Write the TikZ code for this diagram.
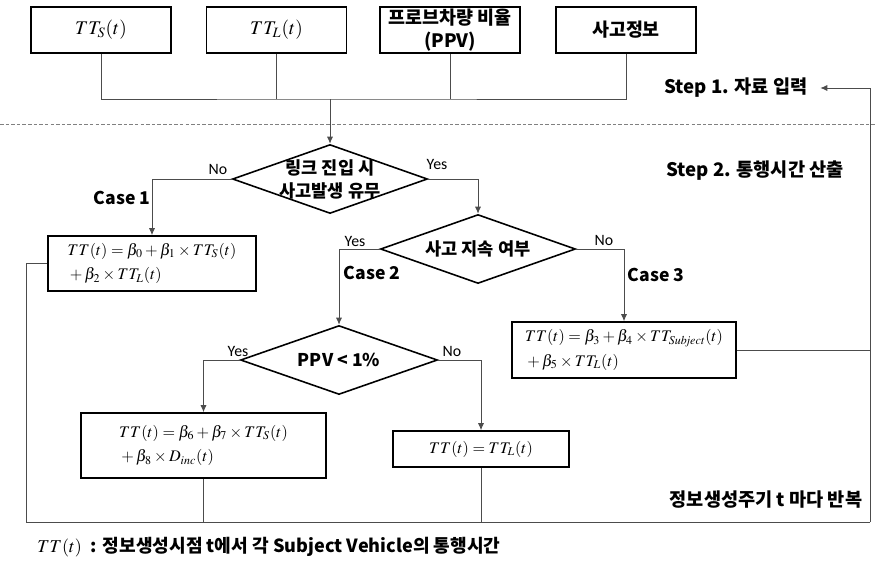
\documentclass[tikz,border=0pt]{standalone}
\usepackage{mathptmx}
\usepackage[no-math]{fontspec}
\setmainfont{Noto Sans CJK KR}
\newfontfamily\ynfont{Carlito}
\usetikzlibrary{shapes.geometric,arrows.meta}
\tikzset{
  conn/.style={draw=black!70,line width=.5pt,-{Latex[length=4pt,width=3.5pt]}},
  line/.style={draw=black!70,line width=.5pt},
  inbox/.style={draw,line width=.9pt,inner sep=0pt,minimum width=2.8cm,minimum height=.92cm,
    align=center,font=\bfseries\fontsize{10.5}{13}\selectfont},
  eqbox/.style={draw,line width=.9pt,inner sep=0pt,align=left,font=\fontsize{9.2}{14}\selectfont},
  decision/.style={diamond,draw,line width=.9pt,inner sep=0pt,minimum width=3.9cm,minimum height=1.38cm},
  dtext/.style={align=center,font=\bfseries\fontsize{10}{13}\selectfont},
  yn/.style={inner sep=0pt,font=\ynfont\fontsize{9}{10}\selectfont},
  casetext/.style={inner sep=0pt,font=\bfseries\fontsize{10}{12}\selectfont},
  steplabel/.style={inner sep=0pt,font=\bfseries\fontsize{10.6}{12}\selectfont}
}
\begin{document}
\begin{tikzpicture}[x=.02cm,y=-.02cm]
\useasboundingbox (0,0) rectangle (875,562);
\node[inbox] (ts) at (101,30) {\fontsize{11}{14}\selectfont$TT_S(t)$};
\node[inbox] (tl) at (276.5,30) {\fontsize{11}{14}\selectfont$TT_L(t)$};
\node[inbox] (ppv) at (450,30) {프로브차량 비율\\(PPV)};
\node[inbox] (acc) at (626,30) {사고정보};
\coordinate (j) at (330,99);
\path[line] (ts.south) |- (j) -| (acc.south);
\path[line] (tl.south) -- (tl.south |- j);
\path[line] (ppv.south) -- (ppv.south |- j);
\draw[gray,dash pattern=on 2pt off 1.2pt] (0,124) -- (875,124);
\node[decision,label={[dtext]center:링크 진입 시\\사고발생 유무}] (d1) at (330,179) {};
\node[decision,label={[dtext]center:사고 지속 여부}] (d2) at (478,249) {};
\node[decision,minimum width=3.94cm,label={[dtext]center:PPV < 1\%}] (d3) at (339,360) {};
\path[conn] (j) -- (d1.north);
\node[eqbox,minimum width=4.16cm,minimum height=1.1cm] (b1) at (152,263.5)
  {$TT(t)=\beta_0+\beta_1\times TT_S(t)$\\${}+\beta_2\times TT_L(t)$};
\node[eqbox,minimum width=4.48cm,minimum height=1.12cm] (b3) at (624,350)
  {$TT(t)=\beta_3+\beta_4\times TT_{\mathit{Subject}}(t)$\\${}+\beta_5\times TT_L(t)$};
\node[eqbox,minimum width=4.9cm,minimum height=1.3cm] (b4) at (203.5,445.5)
  {$TT(t)=\beta_6+\beta_7\times TT_S(t)$\\${}+\beta_8\times D_{\mathit{inc}}(t)$};
\node[eqbox,minimum width=3.52cm,minimum height=.72cm] (b5) at (481,449)
  {$TT(t)=TT_L(t)$};
\path[conn] (d1.west) -| (b1.north);
\path[conn] (d1.east) -| (d2.north);
\path[conn] (d2.west) -| (d3.north);
\path[conn] (d2.east) -| (b3.north);
\path[conn] (d3.west) -| (b4.north);
\path[conn] (d3.east) -| (b5.north);
\node[yn] (no1) at (218,169) {No};
\node[yn] (yes1) at (437,164) {Yes};
\node[yn] (yes2) at (355,241) {Yes};
\node[yn] (no2) at (604,240) {No};
\node[yn] (yes3) at (238,351) {Yes};
\node[yn] (no3) at (452,351) {No};
\node[casetext] (c1) at (122,198) {Case 1};
\node[casetext] (c2) at (372,273) {Case 2};
\node[casetext] (c3) at (656,275) {Case 3};
\node[steplabel,anchor=east] (s1) at (808,88) {Step 1. 자료 입력};
\node[steplabel] (s2) at (755,171) {Step 2. 통행시간 산출};
\node[steplabel] (rep) at (766,500) {정보생성주기 t 마다 반복};
\coordinate (lb) at (26,522);
\coordinate (rb) at (870,522);
\path[line] (b1.west) -| (lb) -- (rb);
\path[conn] (rb) |- ([xshift=7pt]s1.east);
\path[line] (b3.east) -- (b3.east -| rb);
\path[line] (b4.south) -- (b4.south |- lb);
\path[line] (b5.south) -- (b5.south |- lb);
\node[anchor=west,inner sep=0pt,font=\fontsize{10.3}{12}\selectfont] (legend) at (37,547)
  {$TT(t)$\enspace\textbf{: 정보생성시점 t에서 각 Subject Vehicle의 통행시간}};
\end{tikzpicture}
\end{document}
